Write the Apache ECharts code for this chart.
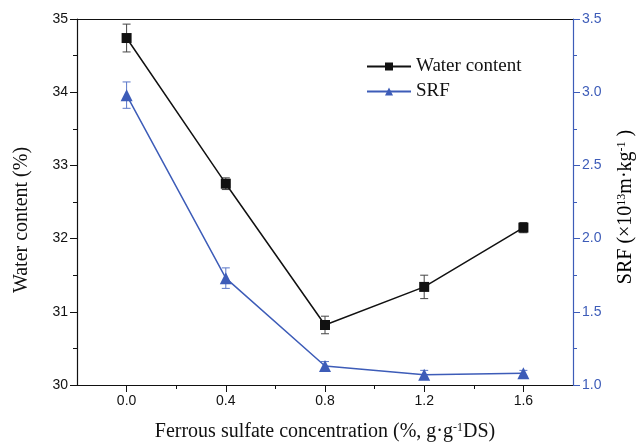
<!DOCTYPE html>
<html>
<head>
<meta charset="utf-8">
<script src="https://cdn.jsdelivr.net/npm/echarts@6/dist/echarts.min.js"></script>
<style>
  html, body { margin: 0; padding: 0; background: #fff; }
  #chart { width: 638px; height: 447px; }
</style>
</head>
<body>
<div id="chart"></div>
<script>
const concentrations = [0.0, 0.4, 0.8, 1.2, 1.6]
const waterContent = [34.74, 32.75, 30.82, 31.34, 32.15]
const waterErr = [0.19, 0.08, 0.12, 0.16, 0.07]
const srf = [2.98, 1.73, 1.13, 1.07, 1.08]
const srfErr = [0.09, 0.07, 0.03, 0.03, 0.02]
const xMajorTicks = [0.0, 0.4, 0.8, 1.2, 1.6]
const xMinorTicks = [0.2, 0.6, 1.0, 1.4]

const black = '#111'
const blue = '#3d5cb8'
const serif = '"Liberation Serif", "DejaVu Serif", serif'
const sans = '"Liberation Sans", Arial, sans-serif'

const titleRich = {
  n: { fontFamily: serif, fontSize: 20, color: black },
  s: { fontFamily: serif, fontSize: 12, color: black, verticalAlign: 'top' }
}

function pairs(ys) {
  return concentrations.map((x, i) => [x, ys[i]])
}

function errData(ys, es) {
  return concentrations.map((x, i) => [x, ys[i] - es[i], ys[i] + es[i]])
}

function errorBars(color) {
  return function(params, api) {
    const x = api.value(0)
    const lo = api.coord([x, api.value(1)])
    const hi = api.coord([x, api.value(2)])
    const cap = 4
    const style = { stroke: color, lineWidth: 1 }
    return {
      type: 'group',
      children: [
        { type: 'line', shape: { x1: lo[0], y1: lo[1], x2: hi[0], y2: hi[1] }, style },
        { type: 'line', shape: { x1: lo[0] - cap, y1: lo[1], x2: lo[0] + cap, y2: lo[1] }, style },
        { type: 'line', shape: { x1: hi[0] - cap, y1: hi[1], x2: hi[0] + cap, y2: hi[1] }, style }
      ]
    }
  }
}

const chart = echarts.init(document.getElementById('chart'))

chart.setOption({
  animation: false,
  backgroundColor: '#fff',
  grid: { left: 77, right: 65, top: 19, bottom: 61 },
  legend: {
    orient: 'vertical',
    left: 361,
    top: 52,
    itemWidth: 44,
    itemHeight: 10,
    itemGap: 6,
    textStyle: { fontFamily: serif, fontSize: 19, color: black },
    data: ['Water content', 'SRF']
  },
  graphic: [
    {
      type: 'text',
      x: 22,
      y: 220,
      rotation: Math.PI / 2,
      style: {
        text: 'Water content (%)',
        fontFamily: serif,
        fontSize: 20,
        fill: black,
        align: 'center',
        verticalAlign: 'middle'
      }
    },
    {
      type: 'text',
      x: 626,
      y: 207,
      rotation: Math.PI / 2,
      style: {
        text: '{n|SRF (×10}{s|13}{n|m·kg}{s|-1}{n| )}',
        rich: titleRich,
        align: 'center',
        verticalAlign: 'middle'
      }
    }
  ],
  xAxis: [
    {
      type: 'value',
      min: -0.2,
      max: 1.8,
      interval: 0.2,
      name: '{n|Ferrous sulfate concentration (%, g·g}{s|-1}{n|DS)}',
      nameLocation: 'middle',
      nameGap: 37,
      nameTextStyle: { rich: titleRich },
      axisLine: { onZero: false, lineStyle: { color: black, width: 1.2 } },
      axisTick: { customValues: xMajorTicks, length: 7, lineStyle: { color: black } },
      axisLabel: {
        customValues: xMajorTicks,
        fontFamily: sans, fontSize: 14, color: black, margin: 9,
        formatter: v => v.toFixed(1)
      },
      splitLine: { show: false }
    },
    {
      type: 'value',
      position: 'bottom',
      min: -0.2,
      max: 1.8,
      interval: 0.2,
      axisLine: { show: false, onZero: false },
      axisTick: { customValues: xMinorTicks, length: 4, lineStyle: { color: black } },
      axisLabel: { show: false },
      splitLine: { show: false }
    },
    {
      type: 'value',
      position: 'top',
      min: -0.2,
      max: 1.8,
      axisLine: { onZero: false, lineStyle: { color: black, width: 1.2 } },
      axisTick: { show: false },
      axisLabel: { show: false },
      splitLine: { show: false }
    }
  ],
  yAxis: [
    {
      type: 'value',
      min: 30,
      max: 35,
      interval: 1,
      axisLine: { show: true, onZero: false, lineStyle: { color: black, width: 1.2 } },
      axisTick: { show: true, length: 7, lineStyle: { color: black } },
      minorTick: { show: true, splitNumber: 2, length: 4, lineStyle: { color: black } },
      axisLabel: { fontFamily: sans, fontSize: 14, color: black, margin: 9 },
      splitLine: { show: false }
    },
    {
      type: 'value',
      position: 'right',
      min: 1,
      max: 3.5,
      interval: 0.5,
      axisLine: { show: true, onZero: false, lineStyle: { color: blue, width: 1.2 } },
      axisTick: { show: true, length: 7, lineStyle: { color: blue } },
      minorTick: { show: true, splitNumber: 2, length: 4, lineStyle: { color: blue } },
      axisLabel: { fontFamily: sans, fontSize: 14, color: blue, margin: 9, formatter: v => v.toFixed(1) },
      splitLine: { show: false }
    }
  ],
  series: [
    {
      type: 'custom',
      xAxisIndex: 0,
      yAxisIndex: 0,
      renderItem: errorBars('#444'),
      data: errData(waterContent, waterErr),
      z: 1
    },
    {
      type: 'custom',
      xAxisIndex: 0,
      yAxisIndex: 1,
      renderItem: errorBars('#5a77c8'),
      data: errData(srf, srfErr),
      z: 1
    },
    {
      name: 'Water content',
      type: 'line',
      xAxisIndex: 0,
      yAxisIndex: 0,
      data: pairs(waterContent),
      symbol: 'rect',
      symbolSize: 10,
      lineStyle: { color: black, width: 1.5 },
      itemStyle: { color: black },
      z: 3
    },
    {
      name: 'SRF',
      type: 'line',
      xAxisIndex: 0,
      yAxisIndex: 1,
      data: pairs(srf),
      symbol: 'triangle',
      symbolSize: 12,
      lineStyle: { color: blue, width: 1.5 },
      itemStyle: { color: blue },
      z: 3
    }
  ]
})
</script>
</body>
</html>
